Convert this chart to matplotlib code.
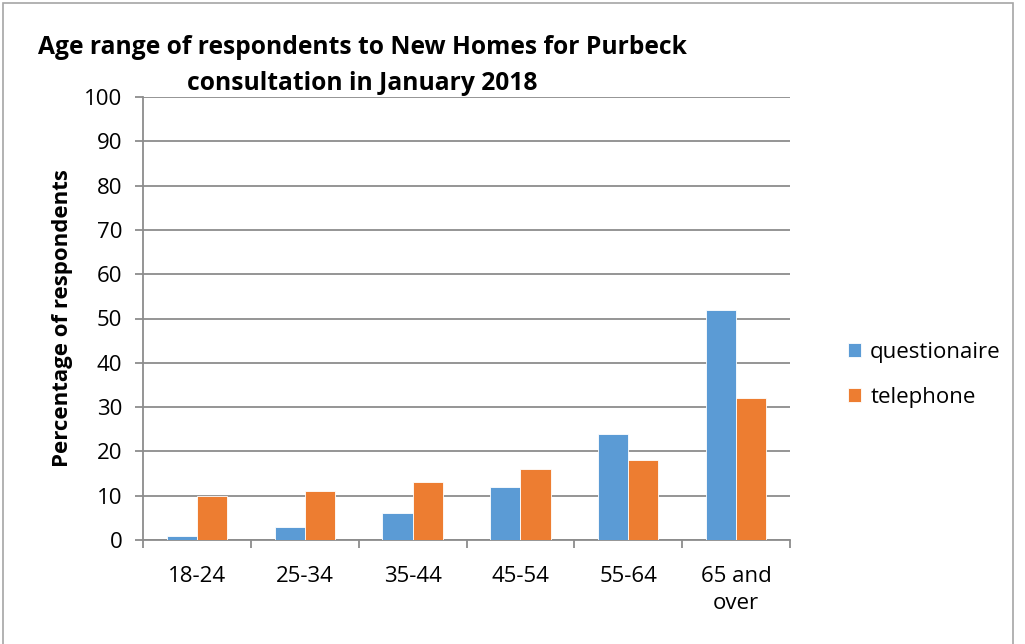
import numpy as np
import matplotlib
matplotlib.use('Agg')
import matplotlib.pyplot as plt
from matplotlib.patches import Rectangle

plt.rcParams['font.family'] = ['Open Sans', 'DejaVu Sans']

# data
categories = ['18-24', '25-34', '35-44', '45-54', '55-64', '65 and\nover']
questionaire = [1, 3, 6, 12, 24, 52]
telephone = [10, 11, 13, 16, 18, 32]

BLUE = '#5b9bd5'
ORANGE = '#ed7d31'
GRID = '#8c8c8c'

fig = plt.figure(figsize=(10.25, 6.44), dpi=100)
ax = fig.add_axes([143 / 1025, 1 - 540 / 644, 647 / 1025, 443 / 644])

# outer chart border
fig.patches.append(Rectangle((3 / 1025, -0.1), 1010 / 1025, 1.1 - 3 / 644,
                             transform=fig.transFigure, fill=False,
                             edgecolor='#a6a6a6', linewidth=1.2))

x = np.arange(len(categories))
w = 0.28
ax.bar(x - w / 2, questionaire, w, color=BLUE, edgecolor='white', linewidth=0.6,
       label='questionaire', zorder=3)
ax.bar(x + w / 2, telephone, w, color=ORANGE, edgecolor='white', linewidth=0.6,
       label='telephone', zorder=3)

ax.set_xlim(-0.5, len(categories) - 0.5)
ax.set_ylim(0, 100)
ax.set_yticks(range(0, 101, 10))
ax.yaxis.grid(True, color=GRID, linewidth=1.3, zorder=0)
ax.set_axisbelow(True)

# category labels between boundary ticks
ax.set_xticks(np.arange(-0.5, len(categories), 1))
ax.set_xticklabels([])
ax.set_xticks(x, minor=True)
ax.set_xticklabels(categories, minor=True, fontsize=16, linespacing=1.35)
ax.tick_params(axis='x', which='minor', length=0, pad=19)
ax.tick_params(axis='x', which='major', length=6, color=GRID, width=1.3)
ax.tick_params(axis='y', length=6, color=GRID, width=1.3, labelsize=16, pad=9)

for s in ['top', 'right']:
    ax.spines[s].set_visible(False)
for s in ['left', 'bottom']:
    ax.spines[s].set_color(GRID)
    ax.spines[s].set_linewidth(1.3)

ax.set_ylabel('Percentage of respondents', fontsize=16, fontweight='bold', labelpad=8)

fig.text(362 / 1025, 1 - 47 / 644, 'Age range of respondents to New Homes for Purbeck',
         ha='center', va='center', fontsize=17.7, fontweight='bold')
fig.text(362 / 1025, 1 - 83 / 644, 'consultation in January 2018',
         ha='center', va='center', fontsize=17.7, fontweight='bold')

fig.legend(loc='center left', bbox_to_anchor=(828 / 1025, 1 - 375 / 644),
           frameon=False, fontsize=16, handlelength=0.6, handleheight=0.6,
           labelspacing=1.1, handletextpad=0.4)

fig.savefig('out.png', dpi=100)
